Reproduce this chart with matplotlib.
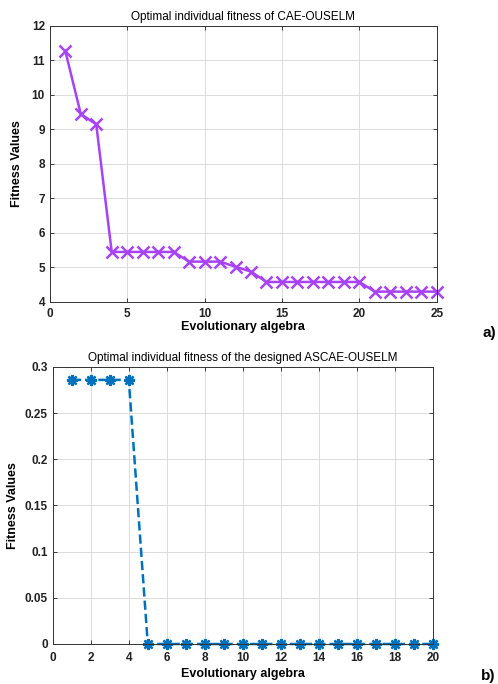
import matplotlib
matplotlib.use('Agg')
import matplotlib.pyplot as plt
import numpy as np

# panel a) CAE-OUSELM
gen_a = np.arange(1, 26)
fit_a = [11.28, 9.45, 9.15, 5.45, 5.45, 5.45, 5.45, 5.45, 5.17, 5.17,
         5.17, 5.02, 4.88, 4.58, 4.58, 4.58, 4.58, 4.58, 4.58, 4.58,
         4.30, 4.30, 4.30, 4.30, 4.30]

# panel b) ASCAE-OUSELM
gen_b = np.arange(1, 21)
fit_b = [0.286, 0.286, 0.286, 0.286] + [0.0] * 16

PURPLE = '#A843F5'
BLUE = '#0072BD'

plt.rcParams['font.family'] = 'Liberation Sans'


def style_axes(ax):
    ax.grid(True, color='#DCDCDC', linewidth=0.7)
    ax.set_axisbelow(True)
    ax.tick_params(direction='in', top=True, right=True, length=3, width=0.6,
                   labelsize=8.5, colors='#222222')
    for lab in ax.get_xticklabels() + ax.get_yticklabels():
        lab.set_fontweight('bold')
    for sp in ax.spines.values():
        sp.set_linewidth(0.7)
        sp.set_color('#333333')


fig = plt.figure(figsize=(4.98, 6.84), dpi=100)

ax1 = fig.add_axes([0.100, 0.5585, 0.777, 0.4035])
ax1.plot(gen_a, fit_a, color=PURPLE, linewidth=1.8, marker='x',
         markersize=8, markeredgewidth=1.8, clip_on=False)
ax1.set_xlim(0, 25)
ax1.set_ylim(4, 12)
ax1.set_xticks([0, 5, 10, 15, 20, 25])
ax1.set_yticks(range(4, 13))
style_axes(ax1)
ax1.tick_params(axis='x', pad=4)
ax1.set_title('Optimal individual fitness of CAE-OUSELM', fontsize=8.5, pad=4)
ax1.set_xlabel('Evolutionary algebra', fontsize=9, fontweight='bold', labelpad=1)
ax1.set_ylabel('Fitness Values', fontsize=9, fontweight='bold', labelpad=6)

ax2 = fig.add_axes([0.106, 0.0585, 0.763, 0.405])
ax2.plot(gen_b, fit_b, color=BLUE, linewidth=1.8, linestyle='--',
         marker=(8, 2, 0), markersize=8, markeredgewidth=1.7, clip_on=False)
ax2.set_xlim(0, 20)
ax2.set_ylim(0, 0.3)
ax2.set_xticks(range(0, 21, 2))
ax2.set_yticks([0, 0.05, 0.1, 0.15, 0.2, 0.25, 0.3])
ax2.set_yticklabels(['0', '0.05', '0.1', '0.15', '0.2', '0.25', '0.3'])
style_axes(ax2)
ax2.tick_params(axis='x', pad=6)
ax2.set_title('Optimal individual fitness of the designed ASCAE-OUSELM',
              fontsize=8.5, pad=4)
ax2.set_xlabel('Evolutionary algebra', fontsize=9, fontweight='bold', labelpad=3)
ax2.set_ylabel('Fitness Values', fontsize=9, fontweight='bold', labelpad=4)

fig.text(0.968, 0.513, 'a)', fontsize=11, fontweight='bold', va='center')
fig.text(0.966, 0.012, 'b)', fontsize=11, fontweight='bold', va='center')

fig.savefig('out.png', dpi=100)
